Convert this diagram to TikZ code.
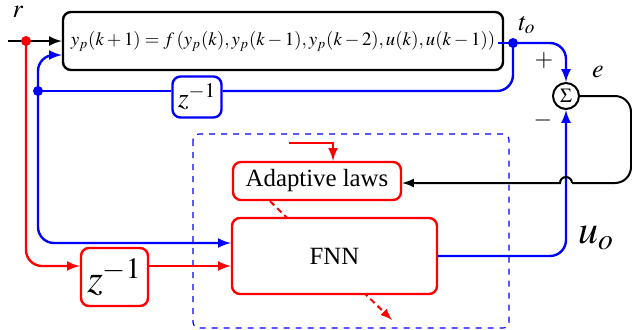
\documentclass[tikz,border=0pt]{standalone}
\usepackage{mathptmx}
\usepackage{fontspec}
\setmainfont{Liberation Serif}
\usetikzlibrary{calc}

\tikzset{
  wire/.style={line width=1.2pt},
  redwire/.style={wire,red},
  bluewire/.style={wire,blue},
  redblock/.style={draw=red,line width=1.2pt,rounded corners=4pt,fill=white,inner sep=0pt},
  blueblock/.style={draw=blue,line width=1.2pt,rounded corners=4pt,fill=white,inner sep=0pt},
  lbl/.style={inner sep=0pt,font=\fontsize{13}{15}\selectfont},
}

\begin{document}
\begin{tikzpicture}[x=0.5pt,y=-0.5pt,>=latex]
\useasboundingbox (0,0) rectangle (632,329);

% controller frame
\draw[blue,dashed,line width=0.6pt,rounded corners=3pt] (193,134) rectangle (509,328);

% blocks
\node[draw,line width=1.2pt,rounded corners=4pt,minimum width=220pt,minimum height=29pt,inner sep=0pt,
      font=\fontsize{9.4}{11}\selectfont] (plant) at (283,41)
      {$y_p(k+1)=f\,(y_p(k),y_p(k-1),y_p(k-2),u(k),u(k-1))$};
\node[blueblock,minimum width=24.5pt,minimum height=20.5pt,font=\fontsize{14}{16}\selectfont] (zb) at (197,97) {$z^{-1}$};
\node[redblock,minimum width=33.5pt,minimum height=29pt,font=\fontsize{20}{22}\selectfont] (zr) at (114.5,277) {$z^{-1}$};
\node[redblock,minimum width=84pt,minimum height=19pt,font=\fontsize{12.4}{14}\selectfont] (adapt) at (317,181) {Adaptive laws};
\node[circle,draw,line width=1pt,minimum size=13pt,inner sep=0pt,font=\fontsize{10}{12}\selectfont] (sum) at (566,96) {$\Sigma$};

% tuning arrow (behind FNN)
\coordinate (tune) at (392,320);
\draw[red,densely dashed,line width=1pt,->] ([xshift=-23.5pt]adapt.south) -- (tune);

\node[redblock,minimum width=102.5pt,minimum height=38pt,font=\fontsize{12.4}{14}\selectfont] (fnn) at (334.5,256) {FNN};

% points
\coordinate (rin) at (8,41);
\coordinate (r) at (26,41);
\coordinate (to) at (513,43);
\coordinate (fb) at (38,91);
\coordinate (alin) at (289,143);

% reference input
\draw[wire,->] (rin) -- (plant.west);
\draw[redwire,->,rounded corners=8pt] (r) |- ([yshift=5.5pt]zr.west);
\draw[redwire,->] ([yshift=5.5pt]zr.east) -- ([yshift=5.5pt]zr.east -| fnn.west);
\fill[red] (r) circle (2.5pt);

% plant output
\draw[bluewire] ([yshift=-1pt,xshift=-3pt]plant.east) -- (to);
\draw[bluewire,->,rounded corners=8pt] (to) -| (sum.north);
\draw[bluewire,rounded corners=8pt] (to) |- (zb.east |- fb);
\draw[bluewire] (zb.west |- fb) -- (fb);
\draw[bluewire,->,rounded corners=8pt] (fb) |- ([yshift=-7pt]plant.west);
\draw[bluewire,->,rounded corners=8pt] (fb) |- ([yshift=6.5pt]fnn.west);
\fill[blue] (to) circle (2.5pt);
\fill[blue] (fb) circle (2.5pt);

% FNN output
\draw[bluewire,->,rounded corners=8pt] (fnn.east) -| (sum.south);

% error to adaptive laws
\draw[line width=1pt,rounded corners=8pt] (sum.east) -- (631,96) -- (631,183) -- (572,183);
\draw[line width=1pt,->] (572,183) arc (0:180:3pt) -- (adapt.east |- 0,183);

% adaptive laws input
\draw[redwire,->] (alin) -| ([xshift=8pt]adapt.north);

% labels
\node[lbl] (rlbl) at (18,12) {$r$};
\node[lbl] (tolbl) at (527,25) {$t_o$};
\node[lbl] (elbl) at (598,72) {$e$};
\node[lbl,font=\fontsize{12}{14}\selectfont] (plus) at (544,60) {$+$};
\node[lbl,font=\fontsize{12}{14}\selectfont] (minus) at (543,120) {$-$};
\node[lbl,font=\fontsize{20}{22}\selectfont] (uo) at (596,238) {$u_o$};
\end{tikzpicture}
\end{document}
